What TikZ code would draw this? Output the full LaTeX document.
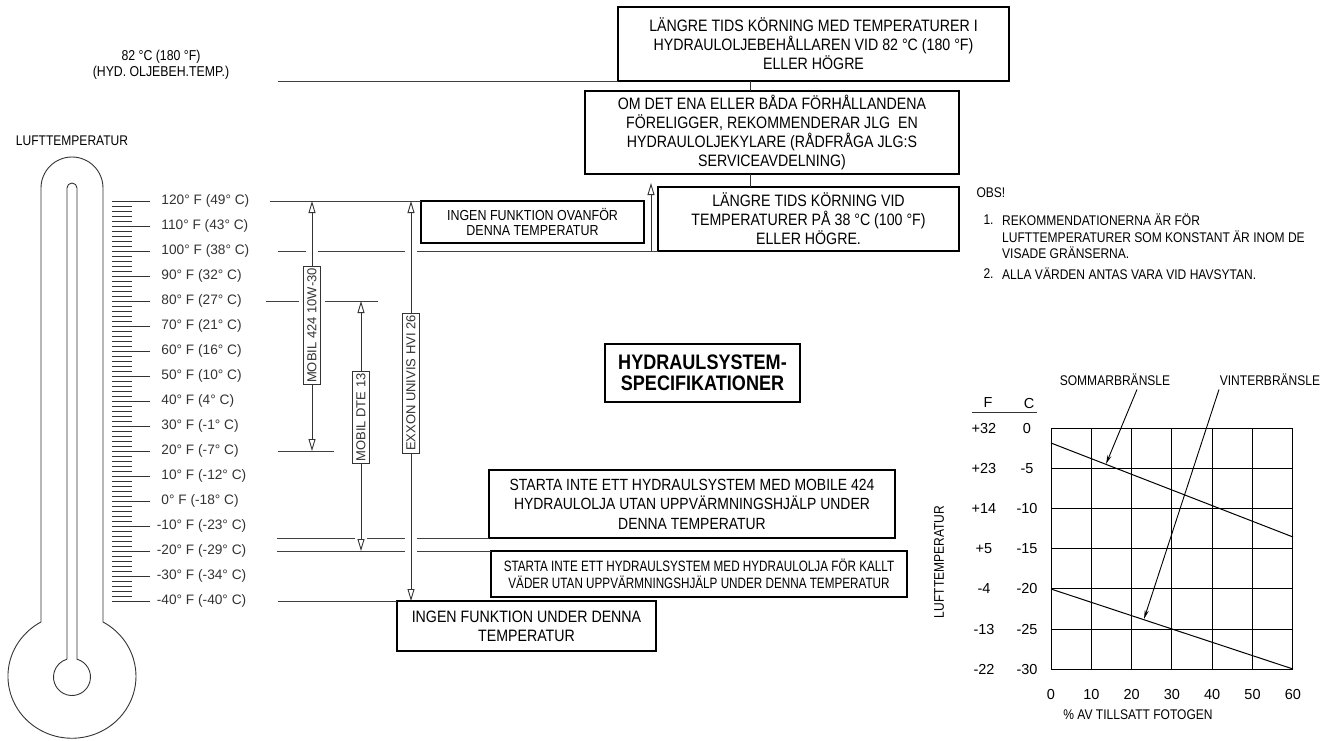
\documentclass[tikz,border=0pt]{standalone}
\usepackage{fontspec}
\setmainfont{Liberation Sans}
\newfontfamily\condfont[FakeStretch=0.86]{Liberation Sans}
\newfontfamily\narrowfont[FakeStretch=0.78]{Liberation Sans}
\usetikzlibrary{arrows.meta}

\begin{document}
\begin{tikzpicture}[x=1pt,y=-1pt,
  box/.style={draw,line width=1.6pt,anchor=north west,align=center,inner sep=0pt,outer sep=0pt,
    font=\condfont\fontsize{16.5}{19}\selectfont},
  outline/.style={line width=0.9pt,black!80},
  level/.style={line width=0.9pt,black!75},
  oilrange/.style={outline,<->,>={Triangle[open,length=12pt,width=7pt]}},
  tag/.style={draw,line width=0.8pt,fill=white,rotate=90,inner sep=2pt,minimum height=17pt,
    font=\fontsize{13}{13}\selectfont},
  degree/.style={anchor=west,inner sep=0pt,font=\fontsize{13.7}{16}\selectfont},
  cond/.style={font=\condfont\fontsize{14}{16.5}\selectfont},
  num/.style={font=\fontsize{14.5}{16}\selectfont},
  gridline/.style={line width=1pt},
  fuel/.style={line width=1pt},
  pointer/.style={line width=0.9pt,-{Stealth[length=9pt,width=4pt]}}
]
\useasboundingbox (0,0) rectangle (1322,740);

% thermometer
\node[cond,font=\condfont\fontsize{14}{16}\selectfont] (airtemp) at (72,141) {LUFTTEMPERATUR};
\draw[outline] (41,622) -- (41,188) arc[start angle=180,end angle=0,radius=31pt] -- (103,622)
  arc[start angle=61,end angle=-241,x radius=64pt,y radius=62pt];
\draw[outline] (67,659.2) -- (67,188) arc[start angle=180,end angle=0,radius=5pt] -- (77,659.2)
  arc[start angle=74.3,end angle=-254.3,radius=18.5pt];
\foreach \t in {-40,-38,...,120}
  \draw[outline] (112,{201+(120-\t)*2.5}) -- ++(20,0);
\foreach \f/\c in {120/49,110/43,100/38,90/32,80/27,70/21,60/16,50/10,40/4,
    30/-1,20/-7,10/-12,0/-18,-10/-23,-20/-29,-30/-34,-40/-40}
  \draw[outline] (112,{201+(120-\f)*2.5}) -- ++(38,0)
    node[degree,xshift=11pt] {\ifnum\f<0 \llap{-}\number-\f\else\f\fi° F (\c° C)};

% oil tank limit
\node[cond,align=center,font=\condfont\fontsize{14.3}{16}\selectfont] (tanktemp) at (161,65)
  {82 °C (180 °F)\\(HYD. OLJEBEH.TEMP.)};

% text boxes
\coordinate (stem) at (750,0);
\node[box,minimum width=391pt,minimum height=74pt] (box1) at (618,7)
  {LÄNGRE TIDS KÖRNING MED TEMPERATURER I\\HYDRAULOLJEBEHÅLLAREN VID 82 °C (180 °F)\\ELLER HÖGRE};
\node[box,minimum width=374pt,minimum height=83pt] (box2) at (585,91)
  {OM DET ENA ELLER BÅDA FÖRHÅLLANDENA\\FÖRELIGGER, REKOMMENDERAR JLG \ EN\\HYDRAULOLJEKYLARE (RÅDFRÅGA JLG:S\\SERVICEAVDELNING)};
\node[box,minimum width=301pt,minimum height=64pt] (box3) at (658,187)
  {LÄNGRE TIDS KÖRNING VID\\TEMPERATURER PÅ 38 °C (100 °F)\\ELLER HÖGRE.};
\node[box,minimum width=223pt,minimum height=42pt,font=\condfont\fontsize{14.5}{15.5}\selectfont] (above) at (421,201)
  {INGEN FUNKTION OVANFÖR\\DENNA TEMPERATUR};
\node[box,minimum width=195pt,minimum height=58pt,font=\condfont\bfseries\fontsize{21}{21}\selectfont] (title) at (605,344)
  {HYDRAULSYSTEM-\\SPECIFIKATIONER};
\node[box,minimum width=406pt,minimum height=68pt,font=\condfont\fontsize{16.2}{19.5}\selectfont] (start1) at (489,470)
  {STARTA INTE ETT HYDRAULSYSTEM MED MOBILE 424\\HYDRAULOLJA UTAN UPPVÄRMNINGSHJÄLP UNDER\\DENNA TEMPERATUR};
\node[box,minimum width=416pt,minimum height=46pt,font=\narrowfont\fontsize{15}{17}\selectfont] (start2) at (491,551)
  {STARTA INTE ETT HYDRAULSYSTEM MED HYDRAULOLJA FÖR KALLT\\VÄDER UTAN UPPVÄRMNINGSHJÄLP UNDER DENNA TEMPERATUR};
\node[box,minimum width=259pt,minimum height=50pt] (below) at (397,601)
  {INGEN FUNKTION UNDER DENNA\\TEMPERATUR};
\draw[outline] (box1.south -| stem) -- (box2.north -| stem);
\draw[outline] (box2.south -| stem) -- (box3.north -| stem);

% level lines
\draw[level] (278,81) -- (box1.south west);
\draw[level] (270,201) -- (above.north west);
\draw[level] (278,251) -- (306,251) (318,251) -- (405,251) (417,251) -- (box3.south west);
\draw[level] (266,301) -- (299,301) (325,301) -- (378,301);
\draw[level] (278,451) -- (334,451);
\draw[level] (277,538) -- (355,538) (367,538) -- (405,538) (417,538) -- (start1.south west);
\draw[level] (277,551) -- (405,551) (417,551) -- (start2.north west);
\draw[level] (278,601) -- (below.north west);
\draw[outline,->,>={Triangle[open,length=12pt,width=7pt]}] (651,251) -- (651,183);

% oil ranges
\draw[oilrange] (312,201) -- node[tag,pos=0.498] {MOBIL 424 10W-30} (312,451);
\draw[oilrange] (361,301) -- node[tag,pos=0.466] {MOBIL DTE 13} (361,551);
\draw[oilrange] (411,201) -- node[tag,pos=0.455] {EXXON UNIVIS HVI 26} (411,601);

% notes
\node[cond,anchor=west] (obs) at (973,193) {OBS!};
\node[cond,anchor=west] (n1) at (980,220) {1.};
\node[cond,anchor=west,align=left,inner sep=0pt] (n1text) at (1002,236.5)
  {REKOMMENDATIONERNA ÄR FÖR\\LUFTTEMPERATURER SOM KONSTANT ÄR INOM DE\\VISADE GRÄNSERNA.};
\node[cond,anchor=west] (n2) at (980,274) {2.};
\node[cond,anchor=west,inner sep=0pt] (n2text) at (1002,274) {ALLA VÄRDEN ANTAS VARA VID HAVSYTAN.};

% kerosene chart
\foreach \i in {0,...,6}
  \draw[gridline] ({1051+40.3*\i},428) -- ({1051+40.3*\i},669);
\foreach \j in {0,...,6}
  \draw[gridline] (1051,{428+40.2*\j}) -- (1293,{428+40.2*\j});
\node[num] (fhead) at (988,403) {F};
\node[num] (chead) at (1029,403) {C};
\draw[outline] (972,412) -- (1037,412);
\foreach \f/\c [count=\j from 0] in {+32/0,+23/-5,+14/-10,+5/-15,-4/-20,-13/-25,-22/-30} {
  \node[num] at (984,{428+40.2*\j}) {\f};
  \node[num] at (1027,{428+40.2*\j}) {\c};
}
\foreach \p [count=\i from 0] in {0,10,...,60}
  \node[num] at ({1051+40.3*\i},694) {\p};
\node[cond,rotate=90] (yaxis) at (939,562) {LUFTTEMPERATUR};
\node[cond] (xaxis) at (1138,715) {\% AV TILLSATT FOTOGEN};
\draw[fuel] (1051,443) -- (1293,537);
\draw[fuel] (1051,589) -- (1293,669);
\node[cond] (summer) at (1115,380) {SOMMARBRÄNSLE};
\node[cond] (winter) at (1270,380) {VINTERBRÄNSLE};
\draw[pointer] ([xshift=22pt]summer.south) -- (1106,464);
\draw[pointer] ([xshift=-51pt]winter.south) -- (1144,619);
\end{tikzpicture}
\end{document}
